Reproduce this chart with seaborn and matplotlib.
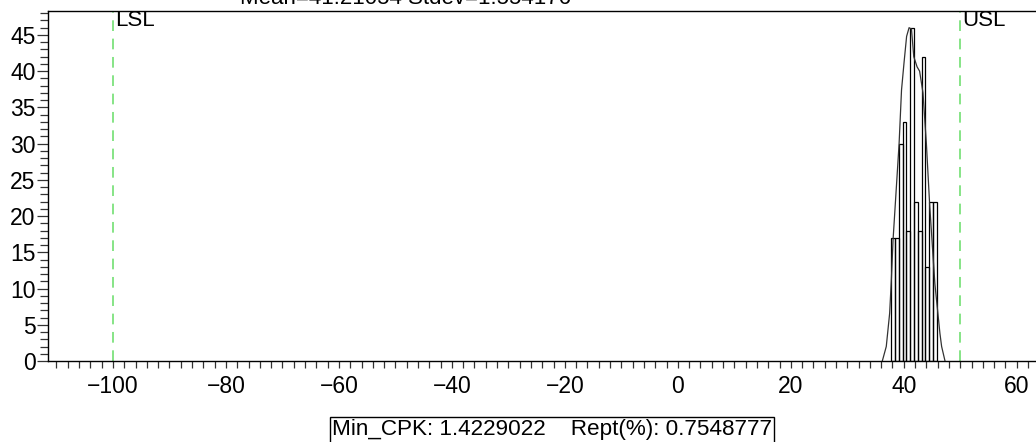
import numpy as np
import pandas as pd
import matplotlib
matplotlib.use("Agg")
import matplotlib.pyplot as plt
from matplotlib.ticker import MultipleLocator
import seaborn as sns

# ---- data ----
bin_edges = [37.75, 38.425, 39.1, 39.775, 40.45, 41.125, 41.8, 42.475,
             43.15, 43.825, 44.5, 45.175, 45.85]
bin_counts = [17, 17, 30, 33, 18, 46, 22, 18, 42, 13, 22, 22]

curve_x = [36.2, 36.9, 37.5, 37.8, 38.1, 39.17, 39.6, 40.06, 40.5, 40.94,
           41.36, 41.77, 42.35, 42.8, 43.4, 44.0, 44.6, 45.5, 46.4, 46.7, 47.3]
curve_y = [0.0, 2.0, 6.6, 11.2, 16.7, 30.0, 37.4, 41.3, 44.8, 46.0,
           45.8, 42.0, 40.6, 40.0, 37.0, 30.0, 21.3, 10.7, 3.8, 2.0, 0.0]

lsl, usl = -100, 50
x_ticks = [-100, -80, -60, -40, -20, 0, 20, 40, 60]
y_ticks = [0, 5, 10, 15, 20, 25, 30, 35, 40, 45]
title_text = "Mean=41.21054 Stdev=1.554176"
footer_text = "Min_CPK: 1.4229022    Rept(%): 0.7548777"

# ---- figure ----
sns.set_theme(style="ticks")
plt.rcParams["font.family"] = ["Liberation Sans", "DejaVu Sans"]

fig = plt.figure(figsize=(10.36, 4.42), dpi=100)
ax = fig.add_axes([48 / 1036, 81 / 442, 997 / 1036, 350 / 442])

centers = [(bin_edges[i] + bin_edges[i + 1]) / 2 for i in range(len(bin_counts))]
hist_df = pd.DataFrame({"x": centers, "w": bin_counts})
sns.histplot(data=hist_df, x="x", weights="w", bins=bin_edges, ax=ax,
             fill=False, color="black", edgecolor="black", linewidth=0.9,
             element="bars")

curve_df = pd.DataFrame({"x": curve_x, "y": curve_y})
sns.lineplot(data=curve_df, x="x", y="y", ax=ax, sort=False,
             color="#333333", linewidth=0.9)

for v, name in [(lsl, "LSL"), (usl, "USL")]:
    ax.axvline(v, color="#66dd66", linestyle=(0, (7, 5)), linewidth=1.1)
    ax.text(v + 0.3, 48.5, name, ha="left", va="top", fontsize=16,
            color="black")

ax.set_xlim(-111.5, 65)
ax.set_ylim(0, 48.3)
ax.set_xticks(x_ticks)
ax.set_yticks(y_ticks)
ax.set_xticklabels([str(t).replace("-", "\u2212") for t in x_ticks])
ax.set_yticklabels([str(t) for t in y_ticks])
ax.xaxis.set_minor_locator(MultipleLocator(2))
ax.yaxis.set_minor_locator(MultipleLocator(1))
ax.tick_params(axis="both", which="both", direction="out", colors="#333333",
               labelcolor="black", labelsize=16.5, width=0.9,
               bottom=True, left=True, top=False, right=False)
ax.tick_params(axis="x", which="major", length=5, pad=5)
ax.tick_params(axis="x", which="minor", length=5)
ax.tick_params(axis="y", which="major", length=8, pad=1)
ax.tick_params(axis="y", which="minor", length=6)
ax.set_xlabel("")
ax.set_ylabel("")
for side in ["left", "bottom", "top"]:
    ax.spines[side].set_visible(True)
    ax.spines[side].set_color("black")
    ax.spines[side].set_linewidth(1.0)
ax.spines["right"].set_visible(False)
ax.grid(False)

fig.text(405 / 1036, 1 - 4 / 442, title_text, ha="center", va="baseline",
         fontsize=16, color="black")
fig.text(552 / 1036, 1 - 430 / 442, footer_text, ha="center", va="center",
         fontsize=16.2, color="black",
         bbox=dict(boxstyle="square,pad=0.1", facecolor="white",
                   edgecolor="black", linewidth=1.0))

fig.savefig("out.png", dpi=100)
